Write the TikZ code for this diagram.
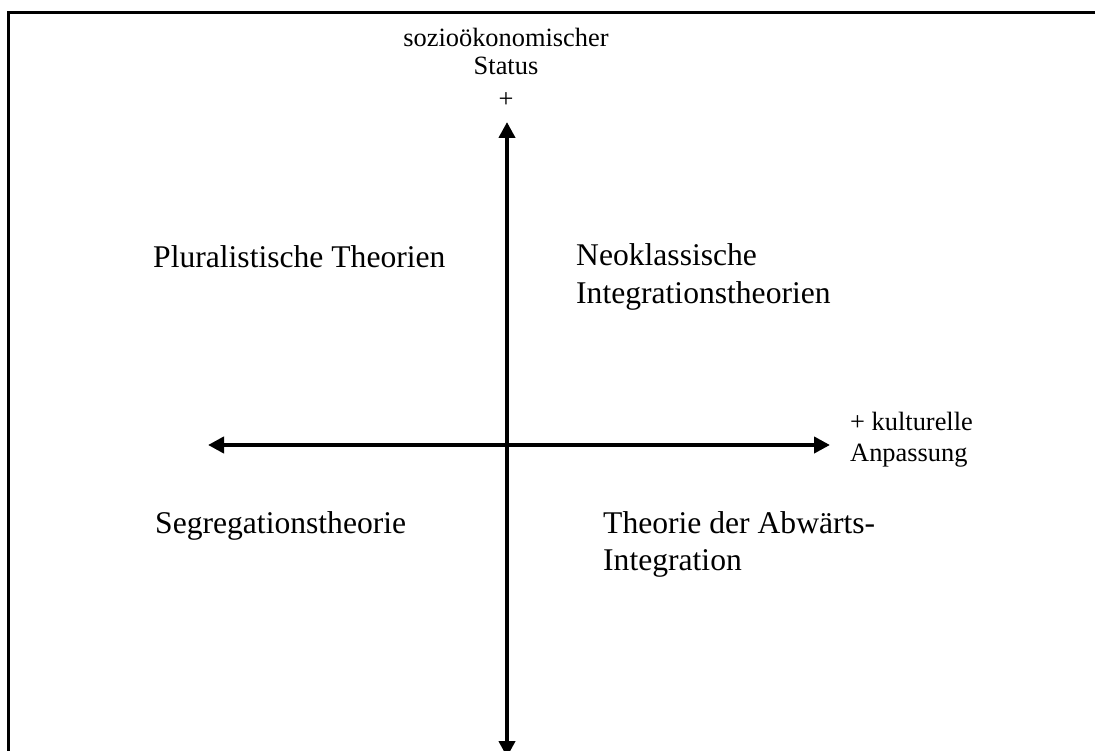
\documentclass[tikz,border=0pt]{standalone}
\usepackage{fontspec}
\setmainfont{Liberation Serif}
\usetikzlibrary{arrows.meta}
\tikzset{
  x=1pt, y=-1pt,
  frameline/.style={line width=3pt, line cap=rect},
  axis/.style={line width=4pt, -{Triangle[length=16pt,width=16pt]}, shorten >=0pt},
  bigtext/.style={font=\fontsize{31.6}{37.5}\selectfont, inner sep=0pt, align=left, anchor=base west},
  smalltext/.style={font=\fontsize{26.4}{27.5}\selectfont, inner sep=0pt},
}
\begin{document}
\begin{tikzpicture}
\clip (0,0) rectangle (1095,751);
\fill[white] (0,0) rectangle (1095,751);
\draw[frameline] (8,770) -- (8,12.5) -- (1110,12.5);
\coordinate (c) at (507,445);
\coordinate (top) at (507,122);
\coordinate (bot) at (507,757);
\coordinate (left) at (208,445);
\coordinate (right) at (830,445);
\draw[axis] (c) -- (top);
\draw[axis] (c) -- (bot);
\draw[axis] (c) -- (left);
\draw[axis] (c) -- (right);
\node[smalltext, align=center, anchor=base] (ylab) at (506,107.7) {sozioökonomischer\\Status\\[6pt]+};
\node[smalltext, align=left, anchor=base west] (xlab) at (850,461.7) {+ kulturelle\\[3.5pt]Anpassung};
\node[bigtext] (q2) at (153,268) {Pluralistische Theorien};
\node[bigtext] (q1) at (576,303.5) {Neoklassische\\Integrationstheorien};
\node[bigtext] (q3) at (155,533) {Segregationstheorie};
\node[bigtext] (q4) at (603,570.5) {Theorie der Abwärts-\\Integration};
\end{tikzpicture}
\end{document}
